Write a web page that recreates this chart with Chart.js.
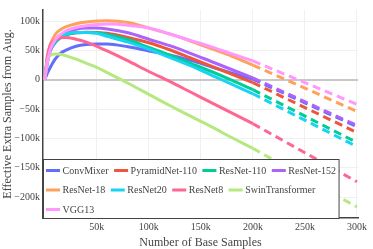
<!DOCTYPE html>
<html><head><meta charset="utf-8">
<script src="https://cdn.jsdelivr.net/npm/chart.js@4"></script>
<style>html,body{margin:0;padding:0;background:#fff;overflow:hidden}canvas{display:block}</style>
</head><body>
<canvas id="c" width="373" height="249"></canvas>
<script>
// Number of base samples (thousands) for the measured (solid) part
const baseSamplesK = [0, 2.5, 5, 10, 15, 20, 30, 40, 50, 60, 80, 100, 120, 140, 160, 180, 200];
// Extrapolated (dashed) part
const extrapSamplesK = [200, 300];

// Effective extra samples from augmentation (thousands)
const convMixer      = [0, 11, 20, 35, 45, 50, 57, 60, 61, 61, 56, 49, 42, 33, 22, 11, 1];
const pyramidNet110  = [0, 35, 52, 66, 73, 77, 80, 81, 80.5, 79, 72, 63, 51, 37, 23, 9, -5];
const resNet110      = [0, 30, 48, 63, 71, 76, 80, 80.5, 80, 77, 68, 55, 42, 28, 14, -1, -17];
const resNet152      = [0, 30, 48, 65, 74, 80, 86, 88, 88, 86.5, 80, 69, 58, 45, 31, 17, 3];
const resNet18       = [0, 38, 58, 77, 85, 90, 95.5, 98.5, 100, 100.5, 97.5, 88, 78, 66, 53, 40, 25];
const resNet20       = [0, 35, 52, 66, 74, 78, 80.5, 80.5, 79, 74, 64, 52, 38, 24, 8, -8, -24];
const resNet8        = [0, 40, 58, 68, 71.5, 72, 69, 64, 57, 49, 32, 14, -3, -21, -39, -57, -75];
const swinTransformer= [0, 32, 41, 44, 43.5, 41, 35, 28, 21, 12, -6, -25, -44, -62, -80, -99, -117];
const vgg13          = [0, 30, 50, 68, 77, 83, 89, 92, 94, 95, 93, 88, 78, 67, 56, 44, 32];

const convMixerExt       = [1, -80];
const pyramidNet110Ext   = [-5, -90];
const resNet110Ext       = [-17, -107];
const resNet152Ext       = [3, -78];
const resNet18Ext        = [25, -54];
const resNet20Ext        = [-24, -114];
const resNet8Ext         = [-75, -174];
const swinTransformerExt = [-117, -217];
const vgg13Ext           = [32, -42];

const modelNames = ['ConvMixer', 'PyramidNet-110', 'ResNet-110', 'ResNet-152', 'ResNet-18', 'ResNet20', 'ResNet8', 'SwinTransformer', 'VGG13'];
const modelSeries = [convMixer, pyramidNet110, resNet110, resNet152, resNet18, resNet20, resNet8, swinTransformer, vgg13];
const modelExt = [convMixerExt, pyramidNet110Ext, resNet110Ext, resNet152Ext, resNet18Ext, resNet20Ext, resNet8Ext, swinTransformerExt, vgg13Ext];
const modelColors = ['#636efa', '#EF553B', '#00cc96', '#ab63fa', '#FFA15A', '#19d3f3', '#FF6692', '#B6E880', '#FF97FF'];

const xTicksK = [50, 100, 150, 200, 250, 300];
const yTicksK = [-200, -150, -100, -50, 0, 50, 100];

const FONT = '"Liberation Serif", "Times New Roman", serif';

const datasets = [];
modelNames.forEach((name, i) => {
  datasets.push({
    label: name,
    data: baseSamplesK.map((x, j) => ({x: x * 1000, y: modelSeries[i][j] * 1000})),
    borderColor: modelColors[i], borderWidth: 3, pointRadius: 0,
    cubicInterpolationMode: 'monotone', order: 100 - 2 * i
  });
  datasets.push({
    label: name + ' (extrapolated)',
    data: extrapSamplesK.map((x, j) => ({x: x * 1000, y: modelExt[i][j] * 1000})),
    borderColor: modelColors[i], borderWidth: 3, pointRadius: 0,
    borderDash: [8, 5], order: 99 - 2 * i
  });
});

const boxLegend = {
  id: 'boxLegend',
  afterDraw(chart) {
    const {ctx, chartArea: a} = chart;
    ctx.save();
    ctx.font = '10px ' + FONT;
    const items = modelNames.map((n, i) => ({n, c: modelColors[i], w: ctx.measureText(n).width}));
    const perRow = 4, lineLen = 14, gapLT = 2.5, gapItem = 5.5, padL = 2.5, padR = 3;
    const rows = [];
    for (let k = 0; k < items.length; k += perRow) rows.push(items.slice(k, k + perRow));
    const rowW = rows.map(r => r.reduce((s, it) => s + lineLen + gapLT + it.w, 0) + gapItem * (r.length - 1));
    const boxW = padL + Math.max(...rowW) + padR;
    const boxH = 59;
    const bx = Math.round(a.left) + 0.5, by = Math.round(a.bottom - boxH) + 0.5;
    ctx.fillStyle = '#fff';
    ctx.fillRect(bx, by, boxW, boxH);
    ctx.strokeStyle = '#444';
    ctx.lineWidth = 1;
    ctx.strokeRect(bx, by, boxW, boxH);
    ctx.textBaseline = 'middle';
    ctx.textAlign = 'left';
    rows.forEach((r, ri) => {
      let x = bx + padL;
      const y = by + 11 + ri * 19.5;
      r.forEach(it => {
        ctx.strokeStyle = it.c; ctx.lineWidth = 3;
        ctx.beginPath(); ctx.moveTo(x, y); ctx.lineTo(x + lineLen, y); ctx.stroke();
        ctx.fillStyle = '#444';
        ctx.fillText(it.n, x + lineLen + gapLT, y + 0.5);
        x += lineLen + gapLT + it.w + gapItem;
      });
    });
    ctx.restore();
  }
};

const fmtK = v => v === 0 ? '0' : (v < 0 ? '\u2212' : '') + Math.abs(v / 1000) + 'k';

new Chart(document.getElementById('c'), {
  type: 'line',
  data: {datasets},
  options: {
    responsive: false, animation: false, devicePixelRatio: 1,
    layout: {padding: {top: 10, right: 15, left: 0, bottom: 0}},
    plugins: {legend: {display: false}, tooltip: {enabled: false}},
    scales: {
      x: {
        type: 'linear', min: -1700, max: 301000,
        afterBuildTicks: s => { s.ticks = xTicksK.map(v => ({value: v * 1000})); },
        afterFit: s => { s.height = 31; },
        ticks: {font: {family: FONT, size: 10}, color: '#444', padding: 3, maxRotation: 0, callback: v => fmtK(v)},
        grid: {color: '#f0f0f0', drawTicks: false},
        border: {display: true, color: '#444', width: 1.5},
        title: {display: true, text: 'Number of Base Samples', color: '#444',
                font: {family: FONT, size: 12, lineHeight: 1}, padding: {top: 0, bottom: 0}}
      },
      y: {
        type: 'linear', min: -235700, max: 118800,
        afterBuildTicks: s => { s.ticks = yTicksK.map(v => ({value: v * 1000})); },
        afterFit: s => { s.width = 43; },
        ticks: {font: {family: FONT, size: 10}, color: '#444', padding: 3, callback: v => fmtK(v)},
        grid: {
          drawTicks: false,
          color: c => c.tick && c.tick.value === 0 ? '#c8c8c8' : '#f0f0f0',
          lineWidth: c => c.tick && c.tick.value === 0 ? 2 : 1
        },
        border: {display: true, color: '#444', width: 1.5},
        title: {display: true, text: 'Effective Extra Samples from Aug.', color: '#444',
                font: {family: FONT, size: 12, lineHeight: 1}, padding: {top: 2, bottom: 0}}
      }
    }
  },
  plugins: [boxLegend]
});
</script>
</body></html>
